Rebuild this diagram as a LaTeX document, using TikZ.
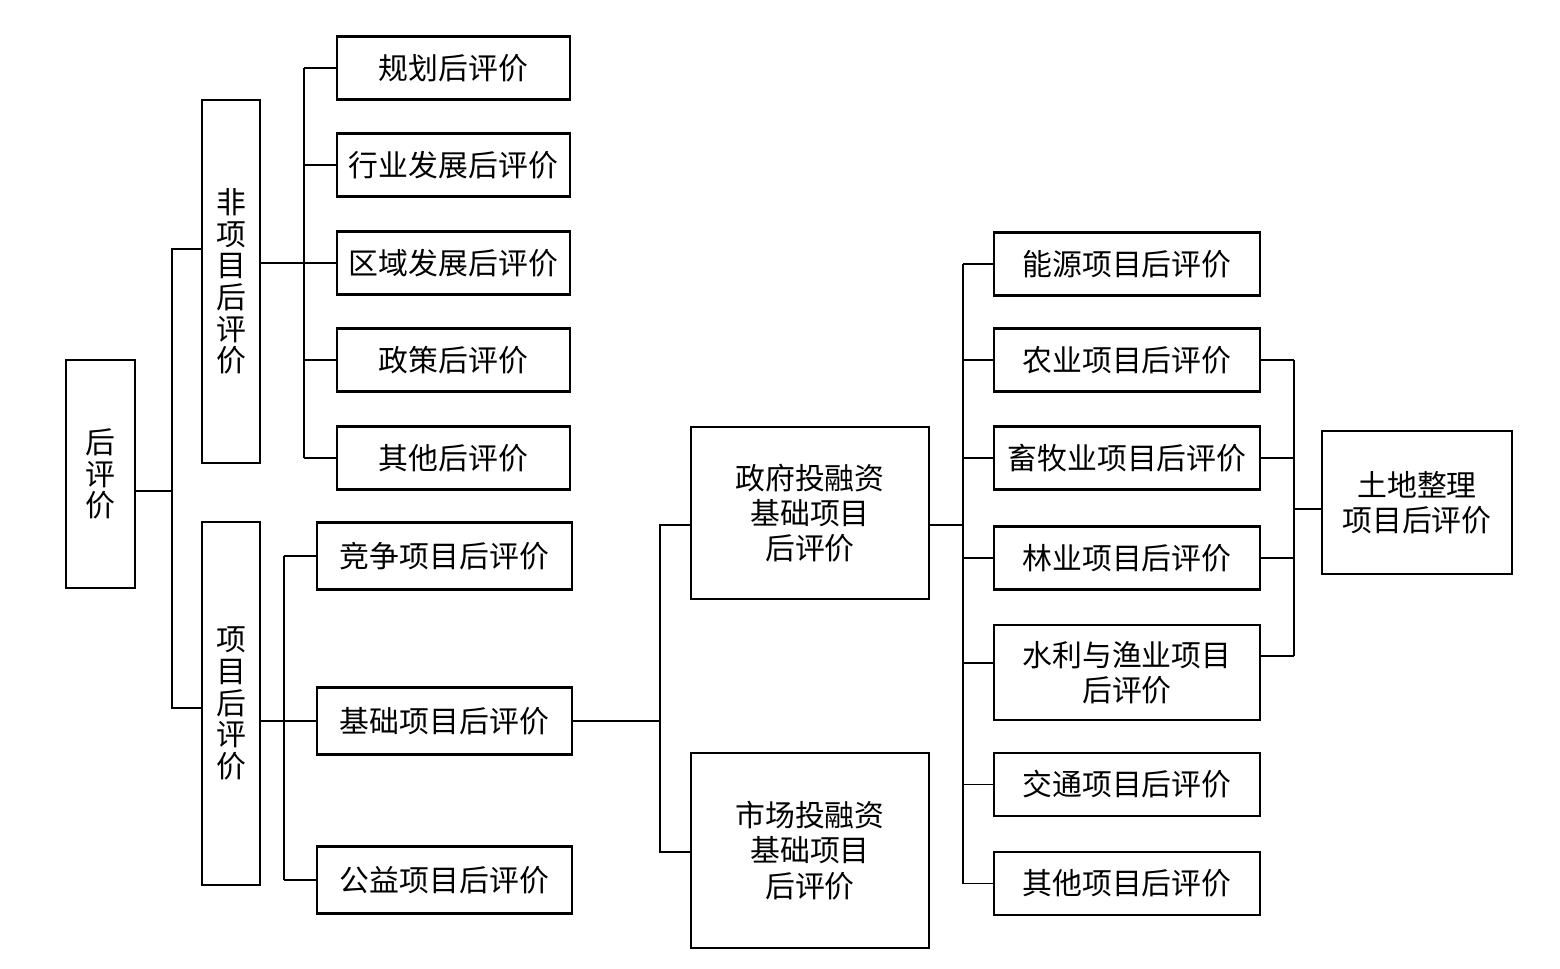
\documentclass[tikz,border=0pt]{standalone}
\usepackage{fontspec}
\newfontfamily\cjk{Noto Sans CJK SC}
\usetikzlibrary{positioning,calc}

\begin{document}
\begin{tikzpicture}[
  box/.style={draw, line width=1.6pt, align=center, inner sep=0pt, font=\cjk\fontsize{17}{20}\selectfont},
  vbox/.style={box, minimum width=1.16cm, minimum height=7.26cm, font=\cjk\fontsize{17}{18}\selectfont},
  leafA/.style={box, minimum width=4.66cm, minimum height=1.26cm},
  leafB/.style={box, minimum width=5.10cm, minimum height=1.34cm},
  leafC/.style={box, minimum width=5.32cm, minimum height=1.26cm},
  big/.style={box, minimum width=4.76cm},
  link/.style={line width=1pt}
]
\useasboundingbox (0,0) rectangle (31.2,-19.36);

% level 1 and 2
\node[box, minimum width=1.38cm, minimum height=4.56cm, font=\cjk\fontsize{17}{18}\selectfont] (root) at (2.01,-9.48) {后\\评\\价};
\node[vbox] (fx) at (4.62,-5.63) {非\\项\\目\\后\\评\\价};
\node[vbox] (xm) at (4.62,-14.07) {项\\目\\后\\评\\价};

% non-project
\foreach \i/\y/\t in {1/-1.36/规划后评价,2/-3.30/行业发展后评价,3/-5.26/区域发展后评价,4/-7.20/政策后评价,5/-9.16/其他后评价}
  \node[leafA] (gh\i) at (9.07,\y) {\t};

% project
\node[leafB] (jz) at (8.89,-11.12) {竞争项目后评价};
\node[leafB] (jc) at (8.89,-14.42) {基础项目后评价};
\node[leafB] (gy) at (8.89,-17.60) {公益项目后评价};

\node[big, minimum height=3.44cm] (zf) at (16.20,-10.26) {政府投融资\\基础项目\\后评价};
\node[big, minimum height=3.90cm] (sc) at (16.20,-17.01) {市场投融资\\基础项目\\后评价};

\foreach \i/\y/\t in {1/-5.28/能源项目后评价,2/-7.20/农业项目后评价,3/-9.16/畜牧业项目后评价,4/-11.16/林业项目后评价,6/-15.69/交通项目后评价,7/-17.67/其他项目后评价}
  \node[leafC] (p\i) at (22.54,\y) {\t};
\node[leafC, minimum height=1.90cm] (p5) at (22.54,-13.45) {水利与渔业项目\\后评价};

\node[box, minimum width=3.80cm, minimum height=2.86cm] (td) at (28.34,-10.05) {土地整理\\项目后评价};

% trunks
\coordinate (n1) at (3.44,0);
\coordinate (n2) at (6.08,0);
\coordinate (n3) at (5.68,0);
\coordinate (n4) at (13.20,0);
\coordinate (n5) at (19.26,0);
\coordinate (n6) at (25.88,0);

\coordinate (r0) at ([yshift=-3.4mm]root.east);
\draw[link] (r0) -- (r0 -| n1);
\draw[link] ([yshift=6.5mm]fx.west) -| (r0 -| n1);
\draw[link] ([yshift=-0.9mm]xm.west) -| (r0 -| n1);

\draw[link] (fx.east |- gh3.west) -- (gh3.west);
\foreach \i in {1,...,5}
  \draw[link] (gh\i.west) -- (gh\i.west -| n2);
\draw[link] (gh1.west -| n2) -- (gh5.west -| n2);

\draw[link] (xm.east |- jc.west) -- (jc.west);
\foreach \n in {jz,gy}
  \draw[link] (\n.west) -- (\n.west -| n3);
\draw[link] (jz.west -| n3) -- (gy.west -| n3);

\draw[link] (jc.east) -- (jc.east -| n4);
\draw[link] ([yshift=-2.4mm]zf.west) -| (jc.east -| n4);
\draw[link] ([yshift=-0.3mm]sc.west) -| (jc.east -| n4);

\coordinate (z0) at ([yshift=-2.4mm]zf.east);
\draw[link] (z0) -- (z0 -| n5);
\coordinate (w5) at ([yshift=1.9mm]p5.west);
\foreach \i in {1,2,3,4,6,7}
  \draw[link] (p\i.west) -- (p\i.west -| n5);
\draw[link] (w5) -- (w5 -| n5);
\draw[link] (p1.west -| n5) -- (p7.west -| n5);

\coordinate (e5) at ([yshift=3.3mm]p5.east);
\foreach \i in {2,3,4}
  \draw[link] (p\i.east) -- (p\i.east -| n6);
\draw[link] (e5) -- (e5 -| n6);
\draw[link] (p2.east -| n6) -- (e5 -| n6);
\draw[link] ([yshift=-1.3mm]td.west) -- ([yshift=-1.3mm]td.west -| n6);

\end{tikzpicture}
\end{document}
